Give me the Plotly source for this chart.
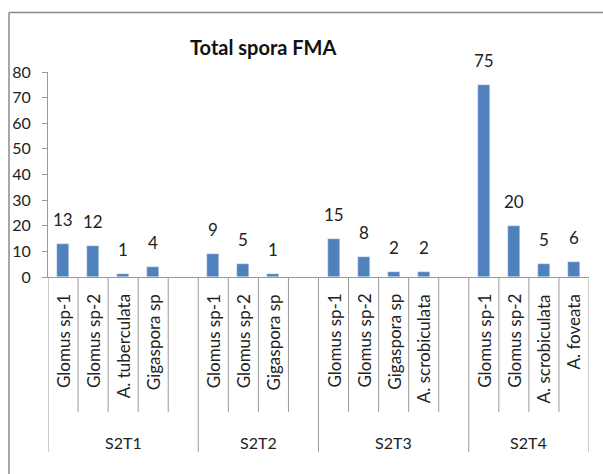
import plotly.graph_objects as go

# ---- data ----
groups = ["S2T1", "S2T2", "S2T3", "S2T4"]
species = [
    ["Glomus sp-1", "Glomus sp-2", "A. tuberculata", "Gigaspora sp"],
    ["Glomus sp-1", "Glomus sp-2", "Gigaspora sp"],
    ["Glomus sp-1", "Glomus sp-2", "Gigaspora sp", "A. scrobiculata"],
    ["Glomus sp-1", "Glomus sp-2", "A. scrobiculata", "A. foveata"],
]
values = [
    [13, 12, 1, 4],
    [9, 5, 1],
    [15, 8, 2, 2],
    [75, 20, 5, 6],
]
y_ticks = [0, 10, 20, 30, 40, 50, 60, 70, 80]
title = "Total spora FMA"

# ---- layout geometry (pixels) ----
W, H = 603, 474
PL, PR, PT, PB = 48, 589, 72, 277   # plot area


def py(p):  # pixel y -> paper y
    return (PB - p) / (PB - PT)


def px(p):  # pixel x -> paper x
    return (p - PL) / (PR - PL)


FONT = "Lato"
TXT = "#222222"
BLUE = "#4F81BD"
GRID = "#9a9a9a"

# category positions (one empty slot after each group except the last)
xs, ys, labels = [], [], []
group_spans = []
pos = 0
for gi, (g, sp, vals) in enumerate(zip(groups, species, values)):
    start = pos
    for s, v in zip(sp, vals):
        xs.append(pos)
        ys.append(v)
        labels.append(s)
        pos += 1
    end_real = pos
    if gi < len(groups) - 1:
        pos += 1  # empty slot
    group_spans.append((g, start, end_real, pos))
ncat = pos

fig = go.Figure()
fig.add_trace(go.Bar(x=xs, y=ys, marker_color=BLUE, width=0.4,
                     hoverinfo="skip", showlegend=False))

annotations = []
# data labels
for x, y in zip(xs, ys):
    annotations.append(dict(x=x, y=y, xref="x", yref="y", text=str(y),
                            showarrow=False, yanchor="bottom", yshift=12,
                            font=dict(family=FONT, size=17, color=TXT)))
# sub-category labels
for x, s in zip(xs, labels):
    annotations.append(dict(x=x, y=py(292), xref="x", yref="paper", text=s,
                            textangle=-90, showarrow=False, xanchor="center",
                            yanchor="top",
                            font=dict(family=FONT, size=17, color=TXT)))
shapes = []
for (g, start, end_real, end) in group_spans:
    annotations.append(dict(x=(start + end) / 2 - 0.5, y=py(442), xref="x",
                            yref="paper", text=g,
                            showarrow=False, xanchor="center", yanchor="middle",
                            font=dict(family=FONT, size=16, color=TXT)))
    # inner dividers
    for b in range(start + 1, end_real + (1 if end > end_real else 0)):
        shapes.append(dict(type="line", xref="x", yref="paper",
                           x0=b - 0.5, x1=b - 0.5, y0=0, y1=py(412),
                           line=dict(color=GRID, width=1)))
# group dividers
for b in [group_spans[0][1]] + [s[3] for s in group_spans]:
    shapes.append(dict(type="line", xref="x", yref="paper",
                       x0=b - 0.5, x1=b - 0.5, y0=0, y1=py(452),
                       line=dict(color=GRID, width=1)))
# title
annotations.append(dict(x=px(263), y=py(47), xref="paper", yref="paper",
                        text="<b>" + title + "</b>", showarrow=False,
                        xanchor="center", yanchor="middle",
                        font=dict(family=FONT, size=20, color="#111111")))
# outer chart border (top and left visible)
shapes.append(dict(type="line", xref="paper", yref="paper",
                   x0=px(9), x1=px(620), y0=py(12.5), y1=py(12.5),
                   line=dict(color="#8a8a8a", width=1.5)))
shapes.append(dict(type="line", xref="paper", yref="paper",
                   x0=px(9), x1=px(9), y0=py(12.5), y1=py(490),
                   line=dict(color="#8a8a8a", width=1.5)))

fig.update_layout(
    width=W, height=H,
    margin=dict(l=PL, r=W - PR, t=PT, b=H - PB, pad=0),
    paper_bgcolor="white", plot_bgcolor="white",
    bargap=0,
    annotations=annotations, shapes=shapes,
    xaxis=dict(range=[-0.5, ncat - 0.5], showticklabels=False, ticks="",
               showgrid=False, zeroline=False, showline=True,
               linecolor=GRID, linewidth=1, fixedrange=True),
    yaxis=dict(range=[0, 80], tickvals=y_ticks, ticks="outside", ticklen=5,
               tickcolor=GRID, showgrid=False, zeroline=False, showline=True,
               linecolor=GRID, linewidth=1, ticklabelstandoff=8,
               tickfont=dict(family=FONT, size=16, color=TXT),
               fixedrange=True),
)

fig.write_html("out.html", config={"displayModeBar": False},
               post_script="document.body.style.margin='0';document.body.style.overflow='hidden';")
